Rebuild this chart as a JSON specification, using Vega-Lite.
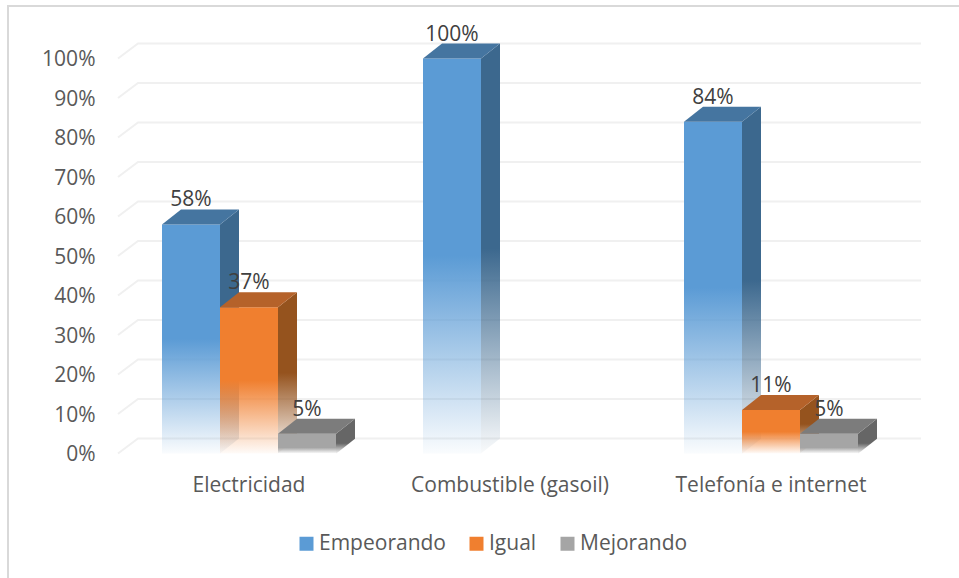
{
"$schema":"https://vega.github.io/schema/vega-lite/v6.json",
"width":952,"height":573,
"autosize":{"type":"none"},
"padding":{"left":8,"top":6,"right":0,"bottom":0},
"background":"white",
"view":{"stroke":"#d9d9d9","strokeWidth":2,"fill":"white"},
"config":{"font":"Open Sans"},
"datasets":{
"bars":[
{"categoria":"Electricidad","serie":"Empeorando","valor":0.58},
{"categoria":"Electricidad","serie":"Igual","valor":0.37},
{"categoria":"Electricidad","serie":"Mejorando","valor":0.05},
{"categoria":"Combustible (gasoil)","serie":"Empeorando","valor":1.0},
{"categoria":"Combustible (gasoil)","serie":"Igual","valor":0},
{"categoria":"Combustible (gasoil)","serie":"Mejorando","valor":0},
{"categoria":"Telefonía e internet","serie":"Empeorando","valor":0.84},
{"categoria":"Telefonía e internet","serie":"Igual","valor":0.11},
{"categoria":"Telefonía e internet","serie":"Mejorando","valor":0.05}
],
"ticks":[{"t":0},{"t":0.1},{"t":0.2},{"t":0.3},{"t":0.4},{"t":0.5},{"t":0.6},{"t":0.7},{"t":0.8},{"t":0.9},{"t":1}]
},
"encoding":{
"y":{"field":"valor","type":"quantitative","stack":null,"title":null,
"scale":{"domain":[0,1],"range":[447.5,52.5],"nice":false,"zero":true},
"axis":{"values":[0,0.1,0.2,0.3,0.4,0.5,0.6,0.7,0.8,0.9,1],"format":".0%","grid":false,"domain":false,"ticks":false,"offset":-87,"labelPadding":0,"labelOffset":1,"labelFontSize":21,"labelColor":"#595959","labelFont":"Open Sans"}},
"x":{"field":"categoria","type":"nominal","title":null,
"scale":{"type":"band","domain":["Electricidad","Combustible (gasoil)","Telefonía e internet"],"range":[110.5,893.5],"paddingInner":0,"paddingOuter":0},
"axis":{"domain":false,"ticks":false,"grid":false,"labelAngle":0,"offset":-126,"labelPadding":21,"labelFontSize":21,"labelLimit":400,"labelColor":"#595959","labelFont":"Open Sans"}},
"xOffset":{"field":"serie","type":"nominal","scale":{"type":"band","domain":["Empeorando","Igual","Mejorando"],"paddingInner":0,"paddingOuter":0.75}}
},
"layer":[
{"data":{"name":"ticks"},
"mark":{"type":"point","filled":false,"opacity":1,"stroke":"#f0f0f0","strokeWidth":2,"size":4,"shape":"M-131,0L-111,-15L672,-15"},
"encoding":{"x":{"datum":"Electricidad"},"xOffset":{"datum":"Igual"},"y":{"field":"t","type":"quantitative"}}},

{"data":{"name":"bars"},"transform":[{"filter":"datum.serie=='Empeorando' && datum.valor>0"}],
"mark":{"type":"point","filled":true,"opacity":1,"size":4,"strokeWidth":0,"color":{"gradient":"linear","x1":0,"y1":0,"x2":0,"y2":1,"stops":[{"offset":0,"color":"#3c688e"},{"offset":0.5,"color":"#3c688e"},{"offset":1,"color":"rgba(60,104,142,0.03)"}]}},
"encoding":{"shape":{"field":"valor","type":"nominal","legend":null,"scale":{"domain":[0.58,0.37,0.05,1.0,0.84,0.11],"range":["M29,0L48,-15L48,214L29,229Z","M29,0L48,-15L48,131L29,146Z","M29,0L48,-15L48,5L29,20Z","M29,0L48,-15L48,380L29,395Z","M29,0L48,-15L48,317L29,332Z","M29,0L48,-15L48,28L29,43Z"]}}}},
{"data":{"name":"bars"},"transform":[{"filter":"datum.serie=='Empeorando' && datum.valor>0"}],
"mark":{"type":"bar","color":{"gradient":"linear","x1":0,"y1":0,"x2":0,"y2":1,"stops":[{"offset":0,"color":"#5b9bd5"},{"offset":0.5,"color":"#5b9bd5"},{"offset":1,"color":"rgba(91,155,213,0.03)"}]}}},
{"data":{"name":"bars"},"transform":[{"filter":"datum.serie=='Empeorando' && datum.valor>0"}],
"mark":{"type":"point","filled":true,"opacity":1,"size":4,"strokeWidth":0,"color":"#4575a0","shape":"M-29,0L29,0L48,-15L-10,-15Z"}},

{"data":{"name":"bars"},"transform":[{"filter":"datum.serie=='Igual' && datum.valor>0"}],
"mark":{"type":"point","filled":true,"opacity":1,"size":4,"strokeWidth":0,"color":{"gradient":"linear","x1":0,"y1":0,"x2":0,"y2":1,"stops":[{"offset":0,"color":"#95531e"},{"offset":0.5,"color":"#95531e"},{"offset":1,"color":"rgba(149,83,30,0.03)"}]}},
"encoding":{"shape":{"field":"valor","type":"nominal","legend":null}}},
{"data":{"name":"bars"},"transform":[{"filter":"datum.serie=='Igual' && datum.valor>0"}],
"mark":{"type":"bar","color":{"gradient":"linear","x1":0,"y1":0,"x2":0,"y2":1,"stops":[{"offset":0,"color":"#f07f2f"},{"offset":0.5,"color":"#f07f2f"},{"offset":1,"color":"rgba(240,127,47,0.03)"}]}}},
{"data":{"name":"bars"},"transform":[{"filter":"datum.serie=='Igual' && datum.valor>0"}],
"mark":{"type":"point","filled":true,"opacity":1,"size":4,"strokeWidth":0,"color":"#b5622a","shape":"M-29,0L29,0L48,-15L-10,-15Z"}},

{"data":{"name":"bars"},"transform":[{"filter":"datum.serie=='Mejorando' && datum.valor>0"}],
"mark":{"type":"point","filled":true,"opacity":1,"size":4,"strokeWidth":0,"color":{"gradient":"linear","x1":0,"y1":0,"x2":0,"y2":1,"stops":[{"offset":0,"color":"#666666"},{"offset":0.7,"color":"#666666"},{"offset":1,"color":"rgba(102,102,102,0.03)"}]}},
"encoding":{"shape":{"field":"valor","type":"nominal","legend":null}}},
{"data":{"name":"bars"},"transform":[{"filter":"datum.serie=='Mejorando' && datum.valor>0"}],
"mark":{"type":"bar","color":{"gradient":"linear","x1":0,"y1":0,"x2":0,"y2":1,"stops":[{"offset":0,"color":"#a5a5a5"},{"offset":0.7,"color":"#a5a5a5"},{"offset":1,"color":"rgba(165,165,165,0.03)"}]}}},
{"data":{"name":"bars"},"transform":[{"filter":"datum.serie=='Mejorando' && datum.valor>0"}],
"mark":{"type":"point","filled":true,"opacity":1,"size":4,"strokeWidth":0,"color":"#7c7c7c","shape":"M-29,0L29,0L48,-15L-10,-15Z"}},

{"data":{"name":"bars"},"transform":[{"filter":"datum.valor>0"}],
"mark":{"type":"text","fontSize":21,"font":"Open Sans","color":"#404040","baseline":"alphabetic","dy":-18},
"encoding":{"text":{"field":"valor","type":"quantitative","format":".0%"}}},

{"data":{"name":"bars"},
"mark":{"type":"point","filled":true,"opacity":1,"size":0},
"encoding":{"color":{"field":"serie","type":"nominal","scale":{"domain":["Empeorando","Igual","Mejorando"],"range":["#5b9bd5","#f07f2f","#a5a5a5"]},
"legend":{"title":null,"orient":"none","legendX":288,"legendY":527,"direction":"horizontal","symbolType":"square","symbolSize":196,"symbolStrokeWidth":0,"symbolOpacity":1,"labelFontSize":21,"labelFont":"Open Sans","labelColor":"#595959","labelOffset":2,"columnPadding":20,"padding":0,
"encoding":{"symbols":{"update":{"opacity":{"value":1},"fill":{"signal":"{gradient:'linear',x1:0,y1:0,x2:0,y2:1,stops:[{offset:0,color:scale('color',datum.value)},{offset:0.7,color:scale('color',datum.value)},{offset:1,color:'#ffffff'}]}"}}}}}}}}
]
}
